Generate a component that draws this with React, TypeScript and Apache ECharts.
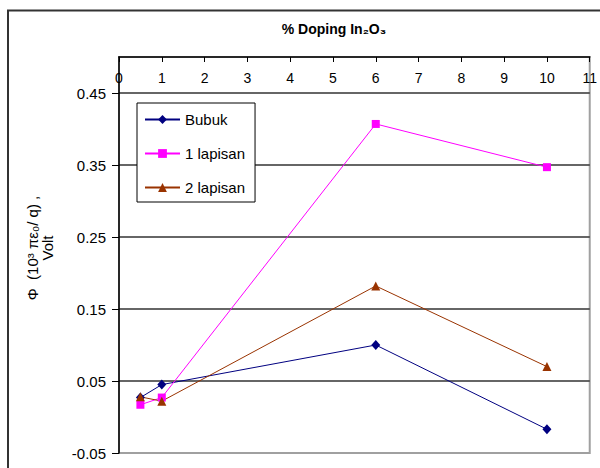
import React, { useEffect, useRef } from "react";
import * as echarts from "echarts";

const titleText = "% Doping In₂O₃";
const yNameLines = ["Φ  (10³ πε₀/ q) ,", "Volt"];
const seriesNames = ["Bubuk", "1 lapisan", "2 lapisan"];
const dopingX = [0.5, 1, 6, 10];
const bubuk = [0.027, 0.045, 0.1, -0.017];
const lapisan1 = [0.017, 0.027, 0.407, 0.347];
const lapisan2 = [0.028, 0.022, 0.182, 0.07];
const yTicks = [-0.05, 0.05, 0.15, 0.25, 0.35, 0.45];
const xTickLabels = ["0", "1", "2", "3", "4", "5", "6", "7", "8", "9", "10", "11"];

const FONT = "Arial, 'Liberation Sans', sans-serif";

export default function App() {
  const ref = useRef<HTMLDivElement>(null);
  useEffect(() => {
    if (!ref.current) return;
    const chart = echarts.init(ref.current, null, { renderer: "svg" });
    const toPairs = (ys: number[]) => dopingX.map((x, i) => [x, ys[i]]);
    chart.setOption({
      animation: false,
      backgroundColor: "#fff",
      grid: {
        left: 119,
        top: 57,
        right: 6,
        bottom: 15,
        show: true,
        borderColor: "#a0a0a0",
        borderWidth: 2,
        backgroundColor: "transparent",
      },
      xAxis: {
        type: "value",
        position: "top",
        min: 0,
        max: 11,
        interval: 1,
        axisLine: { show: true, onZero: false, lineStyle: { color: "#000", width: 1.5 } },
        axisTick: { show: true, inside: true, length: 5, lineStyle: { color: "#000" } },
        axisLabel: {
          inside: true,
          margin: 14,
          fontSize: 14,
          fontFamily: FONT,
          color: "#000",
          formatter: (v: number) => xTickLabels[Math.round(v)] ?? "",
        },
        splitLine: { show: false },
      },
      yAxis: {
        type: "value",
        min: -0.05,
        max: 0.5,
        axisLine: { show: true, onZero: false, lineStyle: { color: "#000", width: 1.5 } },
        axisTick: {
          show: true,
          inside: false,
          length: 7,
          lineStyle: { color: "#000" },
          customValues: yTicks,
        },
        axisLabel: {
          margin: 13,
          fontSize: 15,
          fontFamily: FONT,
          color: "#000",
          customValues: yTicks,
          formatter: (v: number) => v.toFixed(2),
        },
        splitLine: {
          show: true,
          showMinLine: false,
          lineStyle: { color: "#333", width: 1.5 },
        },
      },
      legend: {
        orient: "vertical",
        left: 137,
        top: 103,
        padding: [9, 10, 7, 7],
        itemWidth: 35,
        itemHeight: 11,
        itemGap: 19,
        backgroundColor: "#fff",
        borderColor: "#000",
        borderWidth: 1,
        borderRadius: 0,
        textStyle: { fontSize: 15, fontFamily: FONT, color: "#000" },
        data: seriesNames,
      },
      series: [
        {
          name: seriesNames[0],
          type: "line",
          data: toPairs(bubuk),
          symbol: "diamond",
          symbolSize: [9, 10],
          color: "#000080",
          lineStyle: { color: "#000080", width: 1 },
          itemStyle: { color: "#000080" },
        },
        {
          name: seriesNames[1],
          type: "line",
          data: toPairs(lapisan1),
          symbol: "rect",
          symbolSize: 8,
          color: "#ff00ff",
          lineStyle: { color: "#ff00ff", width: 1 },
          itemStyle: { color: "#ff00ff" },
        },
        {
          name: seriesNames[2],
          type: "line",
          data: toPairs(lapisan2),
          symbol: "triangle",
          symbolSize: 9,
          color: "#993300",
          lineStyle: { color: "#993300", width: 1 },
          itemStyle: { color: "#993300" },
        },
      ],
      graphic: [
        {
          type: "rect",
          shape: { x: 8, y: 10.5, width: 700, height: 600 },
          style: { fill: "none", stroke: "#333", lineWidth: 2 },
          silent: true,
        },
        {
          type: "text",
          x: 334,
          y: 29,
          style: {
            text: titleText,
            align: "center",
            verticalAlign: "middle",
            font: `bold 14px ${FONT}`,
            fill: "#000",
          },
        },
        {
          type: "text",
          x: 40,
          y: 248,
          rotation: Math.PI / 2,
          style: {
            text: yNameLines.join("\n"),
            align: "center",
            verticalAlign: "middle",
            font: `15px ${FONT}`,
            lineHeight: 15,
            fill: "#000",
          },
        },
      ],
    });
    return () => chart.dispose();
  }, []);
  return (
    <div
      ref={ref}
      style={{ position: "absolute", left: 0, top: 0, width: 600, height: 468 }}
    />
  );
}
